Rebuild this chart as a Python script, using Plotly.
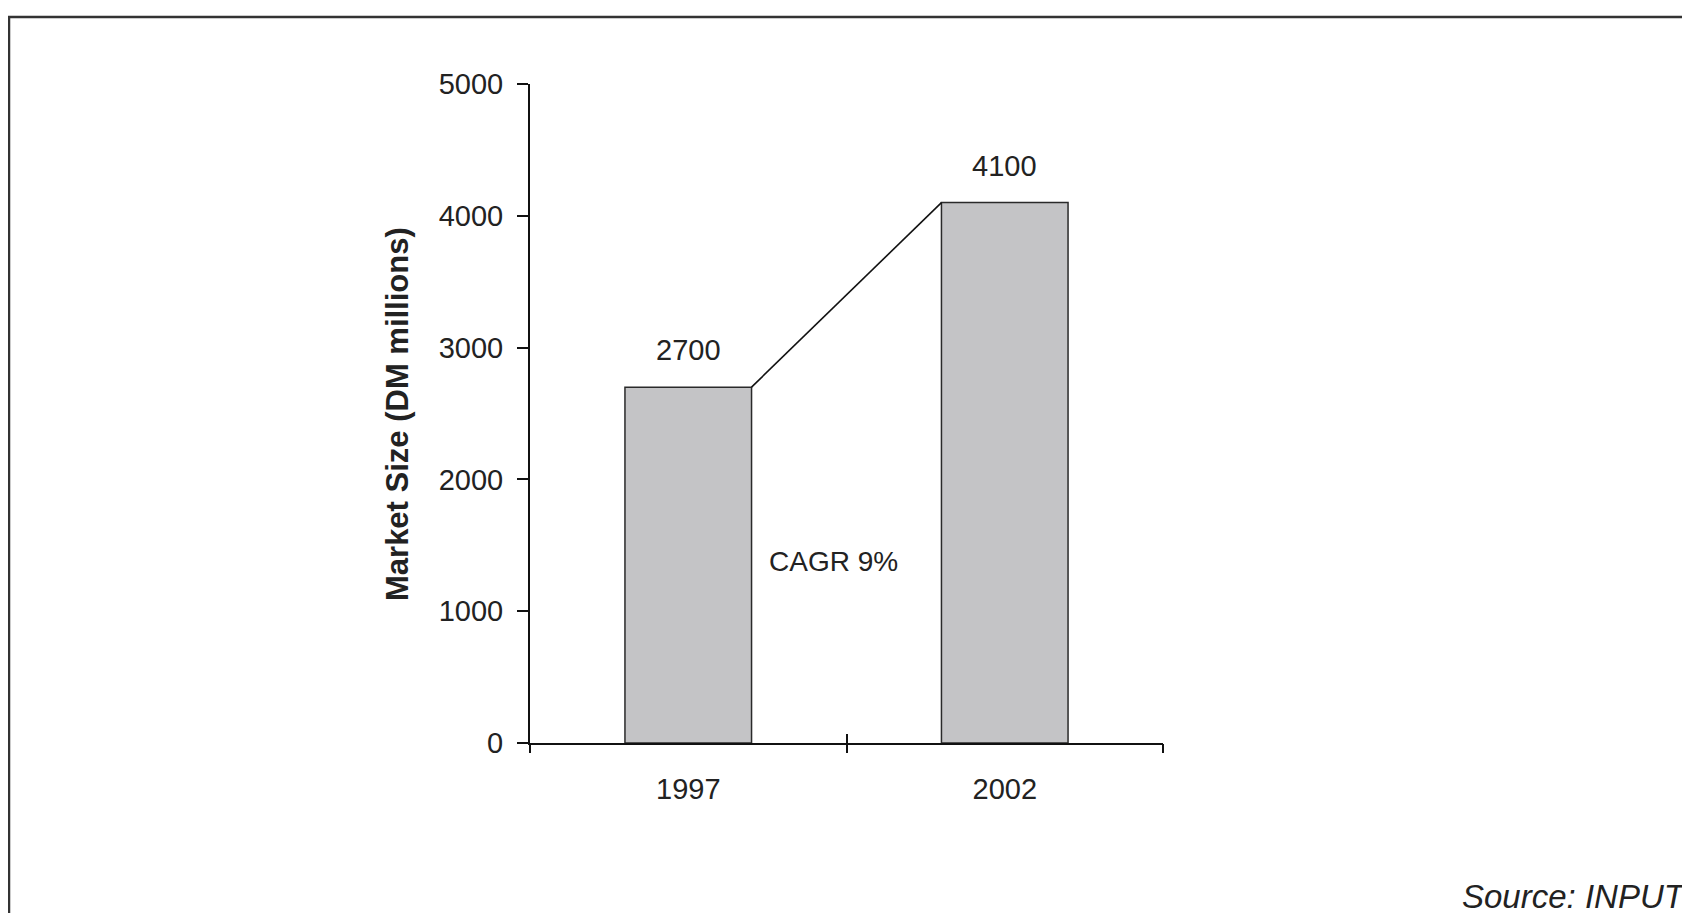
import plotly.graph_objects as go

# ---- data ----
years = ["1997", "2002"]
market_size = [2700, 4100]
y_ticks = [0, 1000, 2000, 3000, 4000, 5000]
y_title = "Market Size (DM millions)"
source_text = "Source: INPUT"

n_years = int(years[1]) - int(years[0])
cagr = (market_size[1] / market_size[0]) ** (1 / n_years) - 1
cagr_text = f"CAGR {round(cagr * 100)}%"

x_pos = list(range(len(years)))                       # category centres
x_bounds = [i - 0.5 for i in range(len(years) + 1)]   # category boundaries

# ---- layout geometry (page pixels; the page body adds an 8px offset) ----
OFF = 8
W, H = 1690, 913
PL, PR, PT, PB = 530, 1163, 84, 743          # plot area in page pixels
ML, MT = PL - OFF, PT - OFF
PW, PH = PR - PL, PB - PT
MR, MB = W - ML - PW, H - MT - PH


def px_x(page_x):
    return (page_x - PL) / PW


def px_y(page_y):
    return (PB - page_y) / PH


FONT = "Arial, Liberation Sans, Helvetica, sans-serif"
TXT = "#222222"
AX = "#111111"
bar_width = 0.4

fig = go.Figure()

fig.add_trace(go.Bar(
    x=x_pos, y=market_size, width=bar_width,
    marker=dict(color="#c4c4c6", line=dict(color="#2a2a2a", width=1.5)),
    hoverinfo="skip", showlegend=False,
))

# connecting line: top-right corner of first bar to top-left corner of second
fig.add_trace(go.Scatter(
    x=[x_pos[0] + bar_width / 2, x_pos[1] - bar_width / 2],
    y=[market_size[0], market_size[1]],
    mode="lines", line=dict(color=AX, width=1.6),
    hoverinfo="skip", showlegend=False,
))

# invisible traces so the overlay axes (crossing tick marks) are drawn
for ax_name in ("x2", "x3"):
    fig.add_trace(go.Scatter(
        x=x_pos, y=market_size, xaxis=ax_name, mode="markers",
        marker=dict(opacity=0), hoverinfo="skip", showlegend=False,
    ))

# value labels
for xp, v in zip(x_pos, market_size):
    fig.add_annotation(
        x=xp, y=v, xref="x", yref="y", text=str(v), showarrow=False,
        xanchor="center", yanchor="bottom", yshift=19,
        font=dict(family=FONT, size=29, color=TXT),
    )

fig.add_annotation(
    x=(x_pos[0] + x_pos[1]) / 2, y=1375, xref="x", yref="y",
    text=cagr_text, showarrow=False, xanchor="center", yanchor="middle",
    xshift=-13, font=dict(family=FONT, size=28, color=TXT),
)

# y-axis title
fig.add_annotation(
    x=px_x(397), y=px_y(414), xref="paper", yref="paper",
    text=f"<b>{y_title}</b>", textangle=-90, showarrow=False,
    xanchor="center", yanchor="middle",
    font=dict(family=FONT, size=31, color=TXT),
)

# source
fig.add_annotation(
    x=px_x(1460), y=px_y(896), xref="paper", yref="paper",
    text=f"<i>{source_text}</i>", showarrow=False,
    xanchor="left", yanchor="middle",
    font=dict(family=FONT, size=33, color=TXT),
)

# frame around the figure (partly outside the picture)
fig.add_shape(
    type="rect", xref="paper", yref="paper",
    x0=px_x(9), x1=px_x(W + 30), y0=px_y(H + 30), y1=px_y(17),
    line=dict(color="#333333", width=2.5), layer="above",
)

common_x = dict(range=[x_bounds[0], x_bounds[-1]], showgrid=False, zeroline=False)

fig.update_layout(
    width=W, height=H,
    margin=dict(l=ML, r=MR, t=MT, b=MB),
    paper_bgcolor="white", plot_bgcolor="white",
    showlegend=False,
    xaxis=dict(
        **common_x,
        tickvals=x_pos, ticktext=years, ticks="",
        showline=True, linecolor=AX, linewidth=2,
        tickfont=dict(family=FONT, size=29, color=TXT),
        ticklabelstandoff=19,
    ),
    xaxis2=dict(
        **common_x, overlaying="x", anchor="y", side="bottom",
        tickvals=x_bounds, ticks="outside", ticklen=9, tickwidth=2,
        tickcolor=AX, showline=False, showticklabels=False,
    ),
    xaxis3=dict(
        **common_x, overlaying="x", anchor="y", side="bottom",
        tickvals=x_bounds, ticks="inside", ticklen=9, tickwidth=2,
        tickcolor=AX, showline=False, showticklabels=False,
    ),
    yaxis=dict(
        range=[0, 5000], tickvals=y_ticks,
        ticks="outside", ticklen=11, tickwidth=2, tickcolor=AX,
        showline=True, linecolor=AX, linewidth=2,
        showgrid=False, zeroline=False,
        tickfont=dict(family=FONT, size=29, color=TXT),
        ticklabelstandoff=8,
    ),
)

fig.write_html("out.html")
